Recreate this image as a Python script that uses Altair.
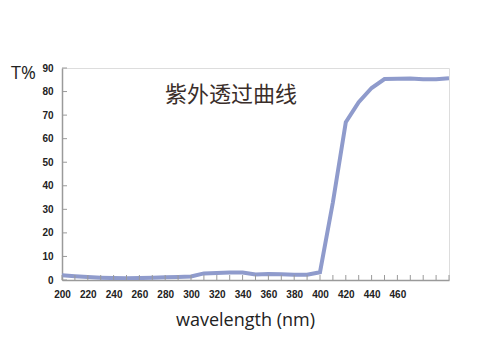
import altair as alt
import pandas as pd

wavelength = list(range(200, 510, 10))
transmit = [2.0, 1.6, 1.3, 1.0, 0.8, 0.7, 0.8, 1.0, 1.2, 1.3, 1.5,
            2.8, 3.0, 3.2, 3.2, 2.3, 2.5, 2.4, 2.2, 2.2, 3.3,
            33.0, 67.0, 75.5, 81.5, 85.3, 85.4, 85.5, 85.2, 85.2, 85.6]
x_labels = list(range(200, 470, 20))
x_ticks = list(range(200, 510, 10))
y_ticks = list(range(0, 100, 10))

W, H = 387, 212
df = pd.DataFrame({"wl": wavelength, "t": transmit})
xt = pd.DataFrame({"wl": x_ticks})
yt = pd.DataFrame({"t": y_ticks})

xs = alt.Scale(domain=[200, 500], nice=False, zero=False)
ys = alt.Scale(domain=[0, 90], nice=False)
axis_gray = "#9a9a9a"
lab_font = "Liberation Sans"

xaxis = alt.Axis(
    values=x_labels, ticks=False, grid=False, domainColor=axis_gray, domainWidth=1.5,
    labelFont=lab_font, labelFontWeight="bold", labelFontSize=10, labelColor="#222",
    labelPadding=9, labelOverlap=False, labelFlush=False,
    title="wavelength (nm)", titleFont="Open Sans",
    titleFontWeight="normal", titleFontSize=18, titleColor="#222",
    titleX=183, titleY=45, titleAlign="center", titleBaseline="alphabetic")
yaxis = alt.Axis(
    values=y_ticks, ticks=False, grid=False, domainColor=axis_gray, domainWidth=1.5,
    labelFont=lab_font, labelFontWeight="bold", labelFontSize=10, labelColor="#222",
    labelPadding=9, labelOverlap=False, labelFlush=False, title=None)

line = alt.Chart(df).mark_line(color="#8f9bcc", strokeWidth=4, strokeJoin="miter", clip=True).encode(
    x=alt.X("wl:Q", scale=xs, axis=xaxis),
    y=alt.Y("t:Q", scale=ys, axis=yaxis),
)

xtick = alt.Chart(xt).mark_rule(color=axis_gray, strokeWidth=1).encode(
    x=alt.X("wl:Q", scale=xs, axis=xaxis), y=alt.value(H - 5), y2=alt.value(H))
ytick = alt.Chart(yt).mark_rule(color=axis_gray, strokeWidth=1).encode(
    y=alt.Y("t:Q", scale=ys, axis=yaxis), x=alt.value(0), x2=alt.value(5))

tlabel = alt.Chart(pd.DataFrame({"s": ["T%"]})).mark_text(
    font="Open Sans", fontSize=18, color="#222", align="left", baseline="middle").encode(
    text="s:N", x=alt.value(-51), y=alt.value(6))
title = alt.Chart(pd.DataFrame({"s": ["紫外透过曲线"]})).mark_text(
    font="Noto Sans CJK SC", fontSize=22, color="#3a2e2a", align="left", baseline="middle"
    ).encode(text="s:N", x=alt.value(103), y=alt.value(27))

chart = alt.layer(line, xtick, ytick, tlabel, title).properties(
    width=W, height=H,
    autosize=alt.AutoSizeParams(type="none"),
    padding={"left": 62, "top": 68, "right": 37, "bottom": 71},
).configure_view(stroke=None).configure(background="white")

chart.save("out.html", embed_options={"renderer": "svg", "actions": False})
